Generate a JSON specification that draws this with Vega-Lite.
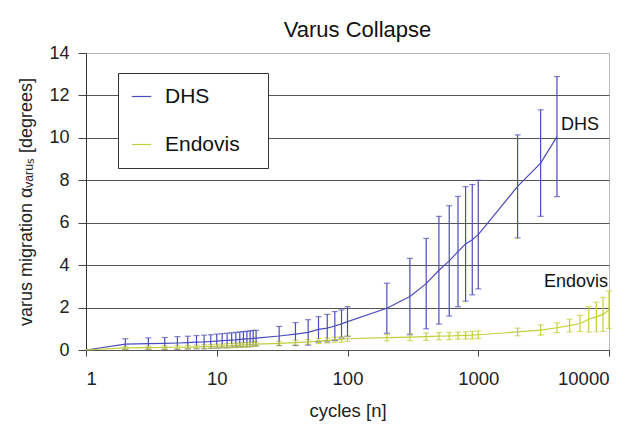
{
  "$schema": "https://vega.github.io/schema/vega-lite/v6.json",
  "width": 523,
  "height": 297,
  "autosize": "none",
  "padding": {"left": 86, "top": 53, "right": 32, "bottom": 77},
  "background": "white",
  "title": {"text": "Varus Collapse", "fontSize": 22, "fontWeight": "normal", "font": "Liberation Sans", "color": "#111", "offset": 2, "dx": 10},
  "config": {
    "font": "Liberation Sans",
    "view": {"stroke": "#b8b8b8", "strokeWidth": 1},
    "axis": {"labelColor": "#222", "titleColor": "#222", "labelFont": "Liberation Sans", "titleFont": "Liberation Sans", "titleFontWeight": "normal"}
  },
  "datasets": {
    "series": [
      {"series": "DHS", "n": 1, "mean": 0, "err": 0},
      {"series": "DHS", "n": 2, "mean": 0.28, "err": 0.25},
      {"series": "DHS", "n": 3, "mean": 0.30, "err": 0.27},
      {"series": "DHS", "n": 4, "mean": 0.31, "err": 0.28},
      {"series": "DHS", "n": 5, "mean": 0.33, "err": 0.30},
      {"series": "DHS", "n": 6, "mean": 0.35, "err": 0.30},
      {"series": "DHS", "n": 7, "mean": 0.37, "err": 0.31},
      {"series": "DHS", "n": 8, "mean": 0.38, "err": 0.32},
      {"series": "DHS", "n": 9, "mean": 0.40, "err": 0.32},
      {"series": "DHS", "n": 10, "mean": 0.42, "err": 0.33},
      {"series": "DHS", "n": 11, "mean": 0.44, "err": 0.33},
      {"series": "DHS", "n": 12, "mean": 0.45, "err": 0.34},
      {"series": "DHS", "n": 13, "mean": 0.47, "err": 0.34},
      {"series": "DHS", "n": 14, "mean": 0.48, "err": 0.35},
      {"series": "DHS", "n": 15, "mean": 0.50, "err": 0.35},
      {"series": "DHS", "n": 16, "mean": 0.51, "err": 0.36},
      {"series": "DHS", "n": 17, "mean": 0.52, "err": 0.36},
      {"series": "DHS", "n": 18, "mean": 0.53, "err": 0.37},
      {"series": "DHS", "n": 19, "mean": 0.55, "err": 0.37},
      {"series": "DHS", "n": 20, "mean": 0.56, "err": 0.37},
      {"series": "DHS", "n": 30, "mean": 0.66, "err": 0.45},
      {"series": "DHS", "n": 40, "mean": 0.75, "err": 0.54},
      {"series": "DHS", "n": 50, "mean": 0.83, "err": 0.60},
      {"series": "DHS", "n": 60, "mean": 0.97, "err": 0.60},
      {"series": "DHS", "n": 70, "mean": 1.03, "err": 0.65},
      {"series": "DHS", "n": 80, "mean": 1.13, "err": 0.68},
      {"series": "DHS", "n": 90, "mean": 1.23, "err": 0.66},
      {"series": "DHS", "n": 100, "mean": 1.34, "err": 0.70},
      {"series": "DHS", "n": 200, "mean": 1.97, "err": 1.18},
      {"series": "DHS", "n": 300, "mean": 2.52, "err": 1.80},
      {"series": "DHS", "n": 400, "mean": 3.13, "err": 2.13},
      {"series": "DHS", "n": 500, "mean": 3.76, "err": 2.54},
      {"series": "DHS", "n": 600, "mean": 4.2, "err": 2.6},
      {"series": "DHS", "n": 700, "mean": 4.64, "err": 2.6},
      {"series": "DHS", "n": 800, "mean": 5.0, "err": 2.7},
      {"series": "DHS", "n": 900, "mean": 5.2, "err": 2.6},
      {"series": "DHS", "n": 1000, "mean": 5.44, "err": 2.56},
      {"series": "DHS", "n": 2000, "mean": 7.71, "err": 2.43},
      {"series": "DHS", "n": 3000, "mean": 8.81, "err": 2.51},
      {"series": "DHS", "n": 4000, "mean": 10.06, "err": 2.83},
      {"series": "Endovis", "n": 1, "mean": 0, "err": 0},
      {"series": "Endovis", "n": 2, "mean": 0.10, "err": 0.07},
      {"series": "Endovis", "n": 3, "mean": 0.11, "err": 0.07},
      {"series": "Endovis", "n": 4, "mean": 0.12, "err": 0.08},
      {"series": "Endovis", "n": 5, "mean": 0.13, "err": 0.08},
      {"series": "Endovis", "n": 6, "mean": 0.14, "err": 0.08},
      {"series": "Endovis", "n": 7, "mean": 0.15, "err": 0.08},
      {"series": "Endovis", "n": 8, "mean": 0.16, "err": 0.09},
      {"series": "Endovis", "n": 9, "mean": 0.17, "err": 0.09},
      {"series": "Endovis", "n": 10, "mean": 0.18, "err": 0.09},
      {"series": "Endovis", "n": 11, "mean": 0.19, "err": 0.09},
      {"series": "Endovis", "n": 12, "mean": 0.20, "err": 0.10},
      {"series": "Endovis", "n": 13, "mean": 0.21, "err": 0.10},
      {"series": "Endovis", "n": 14, "mean": 0.22, "err": 0.10},
      {"series": "Endovis", "n": 15, "mean": 0.23, "err": 0.10},
      {"series": "Endovis", "n": 16, "mean": 0.24, "err": 0.10},
      {"series": "Endovis", "n": 17, "mean": 0.25, "err": 0.10},
      {"series": "Endovis", "n": 18, "mean": 0.26, "err": 0.10},
      {"series": "Endovis", "n": 19, "mean": 0.27, "err": 0.10},
      {"series": "Endovis", "n": 20, "mean": 0.28, "err": 0.10},
      {"series": "Endovis", "n": 30, "mean": 0.31, "err": 0.10},
      {"series": "Endovis", "n": 40, "mean": 0.35, "err": 0.11},
      {"series": "Endovis", "n": 50, "mean": 0.38, "err": 0.11},
      {"series": "Endovis", "n": 60, "mean": 0.42, "err": 0.12},
      {"series": "Endovis", "n": 70, "mean": 0.45, "err": 0.12},
      {"series": "Endovis", "n": 80, "mean": 0.48, "err": 0.12},
      {"series": "Endovis", "n": 90, "mean": 0.50, "err": 0.13},
      {"series": "Endovis", "n": 100, "mean": 0.53, "err": 0.13},
      {"series": "Endovis", "n": 200, "mean": 0.58, "err": 0.15},
      {"series": "Endovis", "n": 300, "mean": 0.61, "err": 0.17},
      {"series": "Endovis", "n": 400, "mean": 0.63, "err": 0.17},
      {"series": "Endovis", "n": 500, "mean": 0.65, "err": 0.17},
      {"series": "Endovis", "n": 600, "mean": 0.66, "err": 0.17},
      {"series": "Endovis", "n": 700, "mean": 0.68, "err": 0.17},
      {"series": "Endovis", "n": 800, "mean": 0.69, "err": 0.17},
      {"series": "Endovis", "n": 900, "mean": 0.70, "err": 0.18},
      {"series": "Endovis", "n": 1000, "mean": 0.72, "err": 0.18},
      {"series": "Endovis", "n": 2000, "mean": 0.85, "err": 0.18},
      {"series": "Endovis", "n": 3000, "mean": 0.94, "err": 0.24},
      {"series": "Endovis", "n": 4000, "mean": 1.05, "err": 0.23},
      {"series": "Endovis", "n": 5000, "mean": 1.15, "err": 0.30},
      {"series": "Endovis", "n": 6000, "mean": 1.25, "err": 0.38},
      {"series": "Endovis", "n": 7000, "mean": 1.45, "err": 0.60},
      {"series": "Endovis", "n": 8000, "mean": 1.56, "err": 0.70},
      {"series": "Endovis", "n": 9000, "mean": 1.68, "err": 0.80},
      {"series": "Endovis", "n": 10000, "mean": 1.90, "err": 0.88}
    ],
    "labels": [
      {"series": "DHS", "n": 4000, "mean": 10.6, "label": "DHS"},
      {"series": "Endovis", "n": 10000, "mean": 3.2, "label": "Endovis"}
    ]
  },
  "layer": [
    {
      "data": {"name": "series"},
      "mark": {"type": "line", "strokeWidth": 1.2},
      "encoding": {
        "x": {"field": "n", "type": "quantitative", "title": "cycles [n]", "scale": {"type": "log", "domain": [1, 10000], "nice": false},
          "axis": {"values": [1, 10, 100, 1000, 10000], "grid": false, "tickSize": 6, "tickColor": "#444", "domainColor": "#555", "labelFontSize": 18.5, "labelPadding": 13, "titleFontSize": 18.5, "titlePadding": 14, "format": "d"}},
        "y": {"field": "mean", "type": "quantitative", "title": "varus migration αᵥₐᵣᵤₛ [degrees]", "scale": {"domain": [0, 14], "nice": false},
          "axis": {"values": [0, 2, 4, 6, 8, 10, 12, 14], "grid": true, "gridColor": {"condition": {"test": "datum.value == 14", "value": "#b8b8b8"}, "value": "#555"}, "gridOpacity": 1, "tickSize": 8, "tickColor": "#444", "domainColor": "#333", "labelFontSize": 18, "labelPadding": 9, "titleFontSize": 18, "titlePadding": 13}},
        "color": {"field": "series", "type": "nominal",
          "scale": {"domain": ["DHS", "Endovis"], "range": ["#4b4bbd", "#c3cf3a"]},
          "legend": {"title": "__", "titleOrient": "right", "titleColor": "white", "titleFontSize": 13, "titlePadding": 0, "orient": "none", "legendX": 32, "legendY": 20, "strokeColor": "#333", "fillColor": "white", "padding": 13, "symbolType": "stroke", "symbolSize": 380, "symbolStrokeWidth": 1.2, "labelFontSize": 21, "labelColor": "#111", "labelOffset": 13, "rowPadding": 26}}
      }
    },
    {
      "data": {"name": "series"},
      "transform": [{"filter": "datum.n > 1"}],
      "mark": {"type": "errorbar", "ticks": {"size": 6}, "thickness": 1.2},
      "encoding": {
        "x": {"field": "n", "type": "quantitative", "title": "cycles [n]"},
        "y": {"field": "mean", "type": "quantitative", "title": "varus migration αᵥₐᵣᵤₛ [degrees]"},
        "yError": {"field": "err"},
        "color": {"field": "series", "type": "nominal", "legend": null}
      }
    },
    {
      "data": {"name": "labels"},
      "transform": [{"filter": "datum.label == 'DHS'"}],
      "mark": {"type": "text", "fontSize": 18, "color": "#111", "baseline": "middle", "align": "left", "dx": 4},
      "encoding": {
        "x": {"field": "n", "type": "quantitative", "title": "cycles [n]"},
        "y": {"field": "mean", "type": "quantitative", "title": "varus migration αᵥₐᵣᵤₛ [degrees]"},
        "text": {"field": "label"}
      }
    },
    {
      "data": {"name": "labels"},
      "transform": [{"filter": "datum.label == 'Endovis'"}],
      "mark": {"type": "text", "fontSize": 18, "color": "#111", "baseline": "middle", "align": "right", "dx": -1},
      "encoding": {
        "x": {"field": "n", "type": "quantitative", "title": "cycles [n]"},
        "y": {"field": "mean", "type": "quantitative", "title": "varus migration αᵥₐᵣᵤₛ [degrees]"},
        "text": {"field": "label"}
      }
    }
  ]
}
